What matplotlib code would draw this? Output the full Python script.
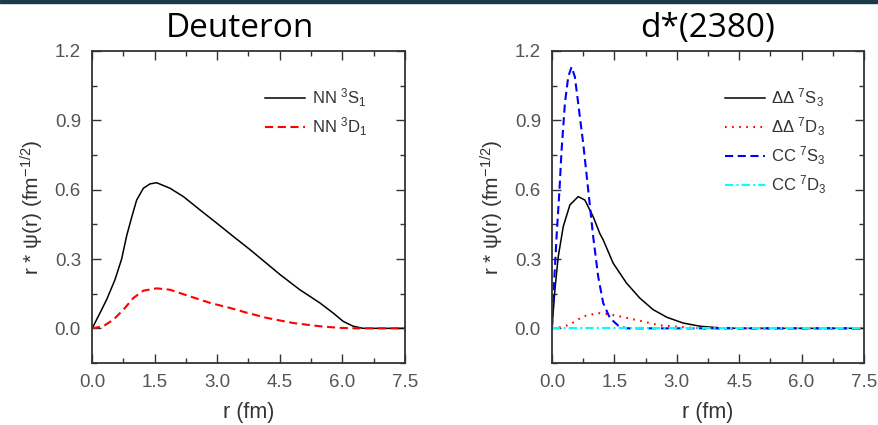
import numpy as np
import matplotlib.pyplot as plt
from matplotlib.patches import Rectangle

# Deuteron wave functions
r_nn_s = [0.0, 0.03, 0.19, 0.35, 0.55, 0.71, 0.83, 0.95, 1.07, 1.23, 1.39, 1.55, 1.87, 2.19, 2.59,
          2.99, 3.39, 3.79, 4.03, 4.51, 4.98, 5.46, 5.78, 6.02, 6.26, 6.50, 7.5]
nn_3s1 = [0.0, 0.009, 0.066, 0.124, 0.21, 0.30, 0.40, 0.48, 0.555, 0.606, 0.625, 0.63, 0.606, 0.57, 0.512,
          0.455, 0.397, 0.34, 0.304, 0.232, 0.167, 0.11, 0.066, 0.03, 0.009, 0.0, 0.0]
r_nn_d = [0.0, 0.27, 0.51, 0.75, 0.99, 1.23, 1.55, 1.87, 2.35, 2.83, 3.31, 3.70, 4.19, 4.82, 5.46, 5.94, 6.3, 7.5]
nn_3d1 = [0.0, 0.009, 0.037, 0.08, 0.131, 0.163, 0.173, 0.167, 0.138, 0.11, 0.088, 0.068, 0.045, 0.023,
          0.009, 0.002, 0.0, 0.0]

# d*(2380) wave functions
r_dd_s = [0.0, 0.07, 0.15, 0.27, 0.43, 0.63, 0.79, 0.99, 1.15, 1.23, 1.47, 1.79, 2.11, 2.43, 2.76,
          3.15, 3.56, 4.04, 4.5, 7.5]
dd_7s3 = [0.0, 0.167, 0.31, 0.44, 0.534, 0.57, 0.555, 0.483, 0.41, 0.383, 0.282, 0.196, 0.131, 0.081, 0.048,
          0.023, 0.009, 0.002, 0.0, 0.0]
r_dd_d = [0.0, 0.2, 0.43, 0.75, 1.11, 1.35, 1.67, 2.03, 2.59, 3.07, 3.55, 7.5]
dd_7d3 = [0.0, 0.005, 0.016, 0.052, 0.066, 0.062, 0.05, 0.036, 0.013, 0.006, 0.0, 0.0]
r_cc_s = [0.0, 0.05, 0.11, 0.18, 0.23, 0.31, 0.39, 0.47, 0.55, 0.63, 0.75, 0.87, 0.99, 1.11, 1.23,
          1.39, 1.59, 1.79, 7.5]
cc_7s3 = [0.0, 0.196, 0.397, 0.60, 0.77, 0.973, 1.088, 1.131, 1.088, 0.973, 0.80, 0.60, 0.397, 0.224, 0.11,
          0.045, 0.012, 0.0, 0.0]
r_cc_d = [0.0, 7.5]
cc_7d3 = [0.0, 0.0]

xticks = [0.0, 1.5, 3.0, 4.5, 6.0, 7.5]
yticks = [0.0, 0.3, 0.6, 0.9, 1.2]
titles = ['Deuteron', 'd*(2380)']

plt.rcParams['font.family'] = ['Liberation Sans', 'DejaVu Sans']
plt.rcParams['mathtext.fontset'] = 'custom'
plt.rcParams['mathtext.rm'] = 'Liberation Sans'

W, H = 879, 425
fig = plt.figure(figsize=(W / 100, H / 100), dpi=100)
fig.patches.append(Rectangle((0, 1 - 3 / H), 1, 3 / H, transform=fig.transFigure,
                             color='#1b3a4b', zorder=0))

ax1 = fig.add_axes([92 / W, 1 - 363 / H, 313 / W, 312 / H])
ax2 = fig.add_axes([552 / W, 1 - 363 / H, 312 / W, 312 / H])

ax1.plot(r_nn_s, nn_3s1, color='black', lw=1.1, label='NN $\\mathregular{^3S_1}$')
ax1.plot(r_nn_d, nn_3d1, color='red', lw=1.5, ls=(0, (3.9, 2.2)), label='NN $\\mathregular{^3D_1}$')

ax2.plot(r_dd_s, dd_7s3, color='black', lw=1.1, label='\u0394\u0394 $\\mathregular{^7S_3}$')
ax2.plot(r_dd_d, dd_7d3, color='red', lw=1.5, ls=(0, (0.8, 2.6)), label='\u0394\u0394 $\\mathregular{^7D_3}$')
ax2.plot(r_cc_s, cc_7s3, color='blue', lw=1.5, ls=(0, (3.9, 2.2)), label='CC $\\mathregular{^7S_3}$')
ax2.plot(r_cc_d, cc_7d3, color='cyan', lw=1.5, ls=(0, (4, 1.5, 1, 1.5)), label='CC $\\mathregular{^7D_3}$')

title_x = [240, 708]
for ax, t, tx in zip([ax1, ax2], titles, title_x):
    ax.set_xlim(0, 7.5)
    ax.set_ylim(-0.15, 1.2)
    ax.set_xticks(xticks)
    ax.set_xticks(np.arange(0.75, 7.5, 1.5), minor=True)
    ax.set_yticks(yticks)
    ax.set_yticks(np.arange(-0.15, 1.2, 0.3), minor=True)
    ax.set_xticklabels(['%.1f' % v for v in xticks])
    ax.set_yticklabels(['%.1f' % v for v in yticks])
    ax.tick_params(which='both', direction='in', top=True, right=True,
                   labelsize=13.5, labelcolor='#555555', color='#333333', pad=8)
    ax.tick_params(which='major', length=6.5, width=1)
    ax.tick_params(which='minor', length=3.5, width=1)
    for s in ax.spines.values():
        s.set_color('#333333')
        s.set_linewidth(1.3)
    ax.set_xlabel('r (fm)', fontsize=15.5, color='#333333', labelpad=8)
    ax.set_ylabel('r * \u03c8(r) (fm$\\mathregular{^{-1/2}}$)', fontsize=15, color='#333333', labelpad=6)
    fig.text(tx / W, 1 - 37 / H, t, fontsize=24, family='Open Sans', ha='center', va='baseline')
    leg = ax.legend(loc='upper left', bbox_to_anchor=(0.553, 0.885), frameon=False,
                    fontsize=12, handlelength=2.4, handletextpad=0.4, labelspacing=0.38,
                    borderpad=0, borderaxespad=0)
    for txt in leg.get_texts():
        txt.set_color('#333333')

fig.savefig('out.png', dpi=100)
